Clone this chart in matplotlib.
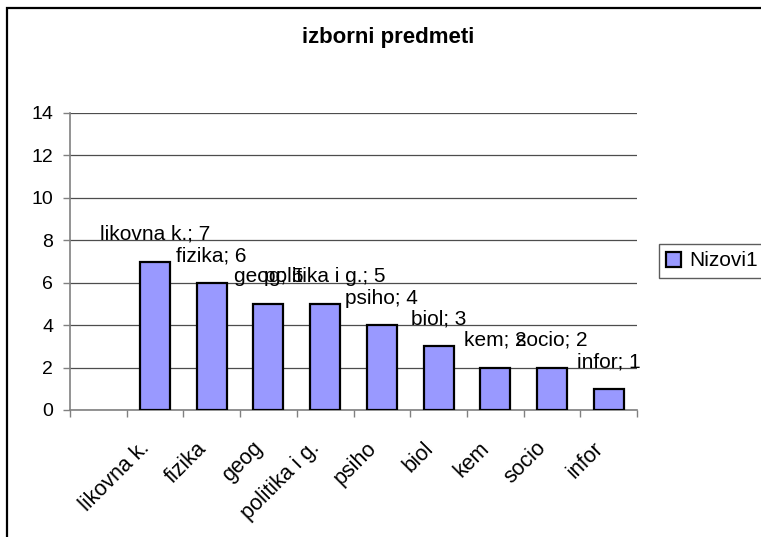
import matplotlib
matplotlib.use("Agg")
import matplotlib.pyplot as plt
from matplotlib.patches import Rectangle
from matplotlib.transforms import ScaledTranslation
import numpy as np

plt.rcParams['font.family'] = ['Liberation Sans', 'DejaVu Sans']

title = "izborni predmeti"
categories = ["likovna k.", "fizika", "geog", "politika i g.", "psiho", "biol", "kem", "socio", "infor"]
values = [7, 6, 5, 5, 4, 3, 2, 2, 1]
series_name = "Nizovi1"
yticks = [0, 2, 4, 6, 8, 10, 12, 14]

W, H = 761, 537
fig = plt.figure(figsize=(W / 100, H / 100), dpi=100)
fig.patch.set_facecolor("white")

# outer frame
fig.patches.append(Rectangle((7 / W, -0.2), 1.2, (H - 8) / H + 0.2, transform=fig.transFigure,
                             fill=False, edgecolor="black", linewidth=1.6, zorder=0))

ax = fig.add_axes([70 / W, (H - 410) / H, (637 - 70) / W, (410 - 113) / H])

x = np.arange(len(categories))
bars = ax.bar(x, values, width=0.53, color="#9999FF", edgecolor="black", linewidth=1.6,
              label=series_name, zorder=3)

ax.set_xlim(-1.5, len(categories) - 0.5)
ax.set_ylim(0, 14)
ax.set_yticks(yticks)
ax.set_yticklabels([str(v) for v in yticks], fontsize=14)
ax.yaxis.grid(True, color="#4d4d4d", linewidth=0.9, zorder=0)
ax.set_axisbelow(True)

# category boundaries as major ticks, labels at centers
ax.set_xticks(np.arange(-1.5, len(categories)), labels=[])
ax.set_xticks(x, labels=categories, minor=True)
ax.tick_params(axis="x", which="minor", length=0, pad=20)
ax.tick_params(axis="x", which="major", length=5, width=1, color="#808080", direction="out")
ax.tick_params(axis="y", length=5, width=1, color="#808080", direction="out", pad=7)
shift = ScaledTranslation(-16 / 100, 0, fig.dpi_scale_trans)
for lab in ax.get_xticklabels(minor=True):
    lab.set_rotation(45)
    lab.set_ha("right")
    lab.set_va("top")
    lab.set_rotation_mode("anchor")
    lab.set_fontsize(15.5)
    lab.set_transform(lab.get_transform() + shift)

for s in ["top", "right"]:
    ax.spines[s].set_visible(False)
for s in ["left", "bottom"]:
    ax.spines[s].set_color("#808080")
    ax.spines[s].set_linewidth(1.2)

for xi, v, c in zip(x, values, categories):
    ax.annotate(f"{c}; {v}", (xi, v), xytext=(0, 19.5), textcoords="offset points",
                ha="center", va="center", fontsize=15, zorder=4)

fig.text(388 / W, (H - 38) / H, title, ha="center", va="center", fontsize=16, fontweight="bold")

leg = fig.legend(handles=[bars], labels=[series_name], loc="center left",
                 bbox_to_anchor=(659 / W, (H - 261) / H), fontsize=15, frameon=True,
                 fancybox=False, edgecolor="#333333", handlelength=0.7, handleheight=0.7,
                 handletextpad=0.4, borderpad=0.35, borderaxespad=0)
leg.get_frame().set_linewidth(1.0)

fig.savefig("out.png", dpi=100)
